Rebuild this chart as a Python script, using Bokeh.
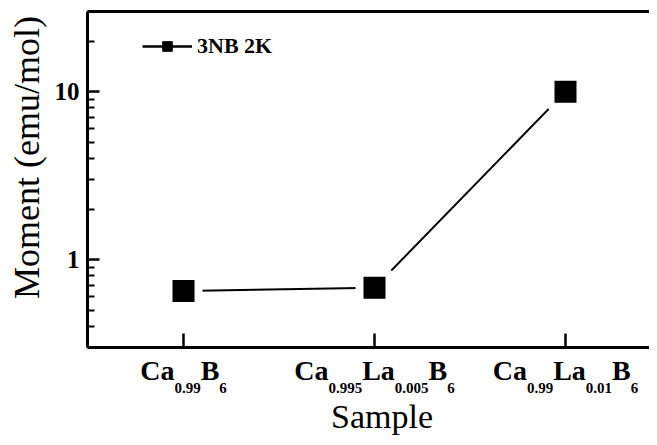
import re
import math
from bokeh.plotting import figure
from bokeh.models import (FixedTicker, LinearAxis, Label, Legend, LegendItem, Range1d)
from bokeh.embed import file_html
from bokeh.resources import INLINE

# ---- data ----
samples = ["Ca0.99B6", "Ca0.995La0.005B6", "Ca0.99La0.01B6"]
moment = [0.65, 0.68, 10.0]
series_name = "3NB 2K"
y_tick_values = [1, 10]
y_tick_labels = ["1", "10"]
y_minor_values = [0.3, 0.4, 0.5, 0.6, 0.7, 0.8, 0.9, 2, 3, 4, 5, 6, 7, 8, 9, 20, 30]
x_title = "Sample"
y_title = "Moment (emu/mol)"
Y_LO, Y_HI = 0.3, 30          # axis limits

# ---- layout (pixels) ----
W, H = 649, 437
PLOT_L, PLOT_T, PLOT_B = 87, 11, 347   # axes box inside the canvas
TICK0, STEP = 183, 191                  # first category position, spacing
FONT = "Liberation Serif"
NAN = float("nan")
EM_FIX = 0.34                           # label text sits this many em low

# the frame covers the whole canvas; axes are drawn at fixed locations
decade = (PLOT_B - PLOT_T) / (math.log10(Y_HI) - math.log10(Y_LO))
y_top = Y_HI * 10 ** (PLOT_T / decade)
y_bot = Y_LO / 10 ** ((H - PLOT_B) / decade)
x_left = -TICK0 / STEP
x_right = (W - TICK0) / STEP
x_axis_pos = (PLOT_L - TICK0) / STEP

xs = list(range(len(samples)))

p = figure(width=W, height=H, output_backend="svg", toolbar_location=None,
           y_axis_type="log", x_range=Range1d(x_left, x_right),
           y_range=Range1d(y_bot, y_top),
           min_border=0, min_border_left=0, min_border_right=0,
           min_border_top=0, min_border_bottom=0)
p.outline_line_color = None
p.grid.visible = False
p.background_fill_color = "white"
p.border_fill_color = "white"

xa = p.below[0]
ya = p.left[0]

# y axis
ya.fixed_location = x_axis_pos
ya.bounds = (Y_LO, Y_HI)
ya.ticker = FixedTicker(ticks=y_tick_values, minor_ticks=y_minor_values)
ya.major_label_overrides = dict(zip(y_tick_values, y_tick_labels))
ya.axis_line_width = 3
ya.axis_line_color = "black"
ya.major_tick_in = 12
ya.major_tick_out = 0
ya.minor_tick_in = 7
ya.minor_tick_out = 0
ya.major_tick_line_width = 2.5
ya.minor_tick_line_width = 2
ya.major_label_standoff = 8
ya.major_label_text_font = FONT
ya.major_label_text_font_style = "bold"
ya.major_label_text_font_size = "25px"
ya.major_label_text_color = "black"

# x axis
xa.fixed_location = Y_LO
xa.bounds = (x_axis_pos, x_right)
xa.ticker = FixedTicker(ticks=xs)
xa.major_label_overrides = {i: "" for i in xs}
xa.axis_line_width = 3
xa.axis_line_color = "black"
xa.major_tick_in = 14
xa.major_tick_out = 0
xa.major_tick_line_width = 2.5
xa.minor_tick_line_color = None

# top frame line
top = LinearAxis(ticker=FixedTicker(ticks=[]), fixed_location=Y_HI,
                 bounds=(x_axis_pos, x_right), axis_line_width=3,
                 axis_line_color="black", major_tick_out=0, minor_tick_out=0,
                 major_tick_in=0, minor_tick_in=0, major_label_standoff=0)
p.add_layout(top, "above")

# data
p.line(xs, moment, line_width=2, color="black")
p.scatter(xs, moment, marker="square", size=30, fill_color="black",
          line_color="white", line_width=8)

# legend (placeholder renderers so the legend glyph is small)
lr = p.line([NAN], [NAN], line_width=2.5, color="black")
sr = p.scatter([NAN], [NAN], marker="square", fill_color="black", line_color="black", line_width=1)
legend = Legend(items=[LegendItem(label=series_name, renderers=[lr, sr])],
                location=(142, 378), glyph_width=50, glyph_height=24,
                label_height=24, label_standoff=5, padding=0, margin=0,
                border_line_color=None, background_fill_alpha=0,
                label_text_font=FONT, label_text_font_style="bold",
                label_text_font_size="22px", label_text_color="black")
p.add_layout(legend)

# x tick labels with subscripts
MAIN, SUB = 28, 15
MAIN_BASE, SUB_BASE = 33, 45.5   # baseline distance below the x axis
WIDTHS = {"C": 722, "a": 500, "L": 667, "B": 667, ".": 250}


def tw(s, size):
    return sum(WIDTHS.get(c, 500) for c in s) * size / 1000.0


for i, name in enumerate(samples):
    parts = re.findall(r"([A-Z][a-z]?)([0-9.]+)", name)
    pieces = []
    for el, num in parts:
        pieces.append((el, MAIN, -MAIN_BASE + EM_FIX * MAIN))
        pieces.append((num, SUB, -SUB_BASE + EM_FIX * SUB))
    total = sum(tw(t, s) for t, s, _ in pieces)
    cur = -total / 2.0
    for t, s, off in pieces:
        p.add_layout(Label(x=xs[i], y=Y_LO, x_offset=cur, y_offset=off, text=t,
                           text_font=FONT, text_font_style="bold",
                           text_font_size=f"{s}px", text_align="left",
                           text_baseline="alphabetic", text_color="black"))
        cur += tw(t, s)

# axis titles
XT_SIZE = 34
p.add_layout(Label(x=x_axis_pos, y=Y_LO, x_offset=294.5, y_offset=-81 + EM_FIX * XT_SIZE,
                   text=x_title, text_font=FONT, text_font_size=f"{XT_SIZE}px",
                   text_align="center", text_baseline="alphabetic", text_color="black"))
p.add_layout(Label(x=x_axis_pos, y=Y_LO, x_offset=-61, y_offset=190, text=y_title,
                   angle=math.pi / 2, text_font=FONT, text_font_size="36px",
                   text_align="center", text_baseline="middle", text_color="black"))

open("out.html", "w").write(file_html(p, INLINE))
